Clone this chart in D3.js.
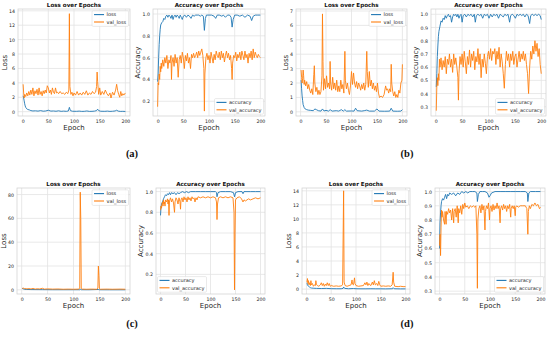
<!DOCTYPE html>
<html>
<head>
<meta charset="utf-8">
<script src="https://cdn.jsdelivr.net/npm/d3@7"></script>
<style>
  body { margin: 0; background: #fff; }
  svg { font-family: "DejaVu Sans", sans-serif; }
</style>
</head>
<body>
<div id="fig"></div>
<script>
"use strict";

// epoch ticks shared by every subplot
const epochTicks = [0, 50, 100, 150, 200];

// (a) ---------------------------------------------------------------
const aLoss = [[1,2.2],[2,1.9],[3,1.5],[4,1.1],[5,0.8],[6,0.6],[8,0.4],[10,0.3],[13,0.25],[16,0.15],[20,0.1],[25,0.12],[30,0.08],[35,0.15],[40,0.07],[45,0.1],[50,0.2],[55,0.08],[60,0.1],[65,0.06],[70,0.12],[75,0.05],[80,0.08],[85,0.05],[89,0.1],[91,0.6],[93,0.15],[97,0.06],[105,0.05],[110,0.08],[115,0.04],[120,0.05],[125,0.1],[130,0.04],[135,0.05],[140,0.08],[144,0.15],[146,0.35],[148,0.15],[152,0.06],[160,0.05],[165,0.08],[170,0.04],[175,0.06],[180,0.1],[183,0.2],[186,0.08],[190,0.04],[195,0.05],[200,0.03]];
const aValLoss = [[1,3.8],[2,2.6],[3,1.9],[4,2.4],[6,2.1],[8,2.6],[10,2.2],[12,2.8],[14,2.3],[16,3.0],[18,2.4],[20,3.3],[22,2.2],[24,2.9],[26,2.5],[28,3.1],[30,2.3],[32,3.3],[34,2.4],[36,2.8],[38,2.2],[40,2.9],[42,2.5],[44,3.0],[46,2.6],[48,3.6],[50,3.3],[52,2.6],[54,3.0],[56,2.4],[58,3.3],[60,2.7],[62,2.5],[64,3.3],[66,2.6],[68,2.7],[70,2.5],[73,2.8],[76,2.5],[79,2.6],[82,2.4],[85,2.7],[88,2.5],[90,3.0],[91,13.6],[92,3.5],[94,2.4],[96,2.7],[98,2.2],[100,2.6],[103,2.3],[106,2.8],[109,2.3],[112,2.6],[115,2.3],[118,2.7],[121,2.4],[124,2.9],[127,2.3],[130,2.6],[133,2.4],[136,2.8],[139,2.5],[142,2.7],[144,3.5],[145,5.5],[146,4.2],[148,2.4],[150,3.3],[152,2.3],[155,2.8],[158,2.4],[161,3.0],[164,2.5],[167,2.2],[170,2.6],[172,1.9],[175,2.7],[178,2.3],[181,3.0],[183,3.8],[185,2.9],[187,2.4],[189,2.0],[191,2.8],[193,2.2],[195,2.5],[197,2.3],[200,2.6]];
const aAcc = [[0,0.38],[1,0.45],[2,0.6],[3,0.72],[4,0.8],[5,0.86],[6,0.9],[8,0.92],[10,0.93],[12,0.96],[14,0.95],[16,0.98],[18,0.99],[20,0.97],[22,0.99],[24,0.98],[26,0.96],[28,0.99],[30,0.95],[32,0.98],[34,0.99],[36,0.97],[38,0.99],[40,0.98],[42,0.96],[44,0.99],[46,0.97],[48,0.95],[50,0.98],[53,0.99],[56,0.97],[59,0.99],[62,0.98],[65,0.96],[68,0.99],[71,0.98],[74,0.99],[77,0.99],[80,0.99],[83,0.98],[86,0.99],[89,0.98],[91,0.85],[93,0.96],[95,0.99],[100,0.99],[105,0.99],[110,0.98],[113,0.96],[116,0.99],[120,0.99],[125,0.98],[128,0.99],[132,0.97],[136,0.99],[140,0.99],[143,0.97],[145,0.88],[147,0.95],[150,0.99],[155,0.99],[160,0.98],[165,0.99],[170,0.97],[175,0.99],[180,0.98],[183,0.94],[186,0.98],[190,0.99],[195,0.99],[200,0.99]];
const aValAcc = [[0,0.15],[1,0.37],[2,0.35],[3,0.45],[4,0.4],[5,0.52],[6,0.47],[7,0.55],[8,0.5],[10,0.58],[12,0.52],[14,0.6],[16,0.55],[18,0.62],[20,0.5],[22,0.58],[24,0.55],[26,0.62],[27,0.4],[28,0.55],[30,0.6],[32,0.52],[34,0.63],[36,0.55],[38,0.6],[40,0.42],[42,0.58],[44,0.62],[46,0.55],[48,0.65],[50,0.6],[52,0.5],[54,0.62],[56,0.57],[58,0.64],[60,0.55],[62,0.6],[64,0.5],[66,0.63],[68,0.6],[70,0.64],[72,0.6],[74,0.62],[76,0.65],[78,0.6],[80,0.66],[82,0.62],[84,0.65],[86,0.68],[88,0.62],[90,0.5],[91,0.11],[92,0.45],[94,0.6],[96,0.64],[98,0.58],[100,0.62],[102,0.55],[104,0.65],[106,0.6],[108,0.55],[110,0.63],[112,0.58],[114,0.66],[116,0.62],[118,0.6],[120,0.65],[122,0.58],[124,0.66],[126,0.6],[128,0.64],[130,0.56],[132,0.62],[134,0.66],[136,0.6],[138,0.64],[140,0.58],[142,0.62],[144,0.5],[145,0.4],[146,0.55],[148,0.62],[150,0.6],[152,0.65],[154,0.57],[156,0.63],[158,0.6],[160,0.65],[162,0.58],[164,0.66],[166,0.62],[168,0.58],[170,0.66],[172,0.6],[174,0.63],[176,0.55],[178,0.64],[180,0.6],[182,0.66],[184,0.58],[186,0.68],[188,0.6],[190,0.65],[192,0.62],[194,0.6],[196,0.63],[198,0.61],[200,0.6]];

// (b) ---------------------------------------------------------------
const bLoss = [[1,2.2],[2,1.6],[3,1.1],[4,0.8],[5,0.5],[7,0.3],[9,0.2],[12,0.15],[15,0.12],[20,0.1],[25,0.08],[28,0.2],[31,0.15],[35,0.08],[40,0.05],[43,0.2],[46,0.06],[50,0.1],[55,0.05],[58,0.15],[62,0.05],[70,0.08],[75,0.05],[80,0.15],[84,0.05],[87,0.15],[90,0.05],[100,0.06],[105,0.05],[108,0.25],[111,0.08],[120,0.05],[125,0.08],[130,0.12],[135,0.05],[145,0.05],[150,0.2],[154,0.05],[165,0.04],[175,0.05],[178,0.25],[181,0.05],[190,0.04],[197,0.05],[200,0.15]];
const bValLoss = [[1,2.9],[2,2.4],[3,2.0],[4,2.3],[5,2.9],[6,2.5],[7,1.9],[8,2.2],[10,1.8],[12,2.1],[14,1.6],[16,1.9],[18,1.5],[20,1.3],[22,1.6],[24,1.2],[26,2.6],[27,3.2],[28,2.0],[30,1.4],[32,1.7],[34,1.2],[36,1.5],[38,1.2],[40,1.4],[42,2.5],[43,6.8],[44,3.5],[45,1.5],[47,2.3],[49,1.6],[51,2.5],[53,1.7],[55,2.0],[57,1.6],[58,3.5],[59,2.0],[61,1.5],[63,2.4],[65,1.6],[67,2.0],[69,1.5],[71,2.2],[73,1.4],[75,1.8],[77,1.4],[79,2.2],[81,1.6],[83,1.9],[85,1.3],[87,4.2],[88,2.2],[90,1.6],[92,2.0],[94,1.5],[96,1.2],[98,1.8],[100,2.8],[102,1.9],[104,2.7],[106,2.0],[108,1.7],[110,2.1],[112,1.6],[114,2.0],[116,1.8],[118,1.5],[120,1.9],[122,1.6],[124,2.0],[126,1.5],[128,1.9],[130,4.2],[131,2.8],[133,1.7],[135,2.8],[137,1.8],[139,2.2],[141,1.6],[143,2.0],[145,1.5],[147,1.8],[149,1.4],[151,2.0],[153,1.3],[155,1.0],[158,1.1],[161,1.0],[164,1.2],[167,1.8],[169,1.5],[171,1.6],[173,1.3],[175,1.6],[177,1.4],[178,3.3],[179,2.0],[181,1.4],[183,1.1],[185,1.4],[187,1.0],[189,1.2],[191,1.0],[193,1.5],[195,1.3],[197,2.0],[199,2.2],[200,3.3]];
const bAcc = [[1,0.45],[2,0.55],[3,0.68],[4,0.76],[5,0.83],[6,0.87],[8,0.91],[10,0.95],[12,0.94],[14,0.97],[16,0.96],[18,0.99],[20,0.97],[22,0.99],[24,1.0],[26,0.98],[28,0.99],[30,0.94],[32,0.98],[34,1.0],[36,0.99],[38,1.0],[40,0.98],[42,1.0],[44,0.97],[46,0.99],[48,1.0],[50,0.94],[52,0.99],[55,1.0],[58,0.98],[61,1.0],[64,0.99],[67,1.0],[70,0.98],[73,1.0],[75,0.94],[77,0.99],[80,1.0],[83,0.99],[86,1.0],[89,0.97],[92,1.0],[95,0.99],[98,1.0],[101,0.97],[104,1.0],[107,0.98],[110,1.0],[113,0.99],[116,1.0],[119,0.97],[122,1.0],[125,0.99],[128,0.98],[131,1.0],[134,0.99],[137,1.0],[140,0.94],[142,0.99],[145,1.0],[148,0.99],[151,0.97],[154,1.0],[157,0.99],[160,1.0],[163,0.99],[166,1.0],[169,0.98],[172,1.0],[175,0.99],[178,0.93],[180,0.99],[183,1.0],[186,0.99],[189,1.0],[192,0.99],[195,1.0],[198,0.99],[200,0.96]];
const bValAcc = [[1,0.27],[2,0.45],[3,0.52],[4,0.46],[5,0.55],[6,0.5],[7,0.66],[8,0.6],[10,0.67],[12,0.58],[14,0.65],[16,0.6],[18,0.68],[20,0.55],[22,0.66],[24,0.62],[26,0.7],[28,0.6],[30,0.66],[32,0.56],[34,0.7],[36,0.62],[38,0.67],[40,0.6],[42,0.52],[43,0.35],[44,0.55],[46,0.68],[48,0.62],[50,0.7],[52,0.6],[54,0.72],[56,0.64],[58,0.55],[60,0.68],[62,0.62],[64,0.73],[66,0.6],[68,0.7],[70,0.65],[72,0.72],[74,0.58],[76,0.68],[78,0.64],[80,0.74],[82,0.62],[84,0.7],[86,0.52],[88,0.66],[90,0.6],[92,0.7],[94,0.63],[96,0.55],[98,0.68],[100,0.72],[102,0.66],[104,0.74],[106,0.65],[108,0.72],[110,0.7],[112,0.74],[114,0.62],[116,0.72],[118,0.66],[120,0.75],[122,0.6],[124,0.7],[126,0.64],[128,0.55],[130,0.44],[132,0.62],[134,0.72],[136,0.65],[138,0.7],[140,0.6],[142,0.7],[144,0.65],[146,0.72],[148,0.62],[150,0.68],[152,0.7],[154,0.6],[156,0.66],[158,0.72],[160,0.64],[162,0.7],[164,0.66],[166,0.72],[168,0.65],[170,0.7],[172,0.62],[174,0.55],[176,0.4],[178,0.6],[180,0.72],[182,0.66],[184,0.76],[186,0.7],[188,0.8],[190,0.72],[192,0.78],[194,0.68],[196,0.74],[198,0.62],[200,0.55]];

// (c) ---------------------------------------------------------------
const cLoss = [[1,1.2],[3,0.8],[6,0.4],[10,0.3],[20,0.2],[40,0.15],[60,0.1],[80,0.1],[100,0.1],[112,0.1],[113,0.5],[115,0.1],[130,0.08],[148,0.3],[150,0.08],[170,0.05],[200,0.05]];
const cValLoss = [[1,1.5],[2,1.2],[4,1.4],[6,0.9],[8,1.1],[10,0.8],[14,1.0],[18,0.7],[22,1.2],[26,0.6],[30,0.9],[35,0.7],[40,1.3],[44,0.6],[50,0.8],[60,0.6],[70,0.7],[80,0.5],[90,0.6],[100,0.5],[110,0.6],[112,1.5],[113,82],[114,60],[115,1.2],[117,0.6],[125,0.5],[135,0.6],[145,0.5],[147,1.5],[148,20],[149,12],[150,1],[152,0.5],[165,0.6],[175,0.5],[190,0.6],[200,0.5]];
const cAcc = [[0,0.77],[1,0.85],[2,0.88],[4,0.9],[6,0.93],[8,0.95],[10,0.97],[12,0.96],[14,0.98],[16,0.97],[18,0.99],[20,0.97],[22,0.99],[25,0.98],[28,0.99],[31,0.97],[34,0.99],[37,0.98],[40,0.99],[44,1.0],[48,0.99],[52,1.0],[56,0.99],[60,1.0],[70,1.0],[80,1.0],[90,1.0],[100,1.0],[110,1.0],[112,0.99],[113,0.95],[115,0.99],[120,1.0],[130,1.0],[140,1.0],[146,0.99],[148,0.95],[150,0.99],[155,1.0],[163,1.0],[165,0.98],[167,1.0],[180,1.0],[190,1.0],[200,1.0]];
const cValAcc = [[0,0.82],[1,0.86],[2,0.84],[3,0.88],[4,0.9],[5,0.86],[6,0.92],[7,0.88],[8,0.9],[9,0.86],[10,0.92],[12,0.9],[14,0.93],[15,0.88],[16,0.92],[17,0.77],[18,0.91],[20,0.94],[22,0.9],[24,0.93],[26,0.89],[28,0.8],[29,0.9],[31,0.94],[33,0.92],[35,0.88],[37,0.94],[39,0.9],[40,0.83],[41,0.92],[43,0.94],[45,0.9],[47,0.95],[49,0.92],[51,0.94],[53,0.9],[55,0.95],[57,0.92],[59,0.94],[61,0.91],[63,0.95],[65,0.93],[67,0.94],[69,0.9],[71,0.94],[73,0.92],[75,0.95],[80,0.94],[85,0.95],[90,0.94],[95,0.95],[100,0.94],[105,0.95],[110,0.94],[112,0.9],[113,0.73],[114,0.88],[116,0.94],[120,0.95],[125,0.94],[130,0.95],[135,0.94],[140,0.95],[145,0.94],[147,0.8],[148,0.05],[149,0.6],[150,0.92],[153,0.94],[158,0.95],[162,0.93],[165,0.9],[167,0.92],[170,0.91],[173,0.92],[176,0.93],[180,0.92],[185,0.93],[190,0.94],[195,0.93],[200,0.94]];

// (d) ---------------------------------------------------------------
const dLoss = [[1,0.9],[2,0.6],[4,0.4],[6,0.3],[8,0.2],[10,0.15],[15,0.12],[20,0.1],[30,0.08],[40,0.1],[50,0.06],[60,0.05],[70,0.05],[74,0.1],[75,0.3],[77,0.1],[85,0.05],[95,0.08],[100,0.05],[110,0.04],[120,0.04],[130,0.05],[140,0.04],[150,0.04],[160,0.03],[174,0.05],[175,0.2],[177,0.05],[190,0.03],[200,0.03]];
const dValLoss = [[1,1.0],[2,1.5],[3,0.8],[4,1.2],[5,0.6],[6,0.9],[8,0.5],[9,1.2],[10,0.6],[12,0.8],[14,0.4],[16,0.6],[18,0.5],[19,1.2],[20,0.7],[22,0.5],[25,0.4],[28,0.6],[30,0.9],[32,0.5],[34,0.8],[36,0.4],[38,0.7],[40,0.5],[42,0.9],[44,0.5],[46,0.8],[48,0.4],[50,0.5],[55,0.4],[60,0.45],[65,0.4],[70,0.45],[73,0.6],[75,14],[76,1.0],[78,0.5],[82,0.4],[86,0.5],[90,0.6],[92,1.3],[93,0.7],[95,0.6],[97,1.6],[98,0.8],[100,0.5],[105,0.4],[110,0.45],[115,0.5],[118,0.9],[120,0.6],[122,1.0],[124,0.5],[126,0.8],[128,0.6],[130,0.5],[133,1.0],[135,0.6],[137,1.2],[139,0.6],[142,0.8],[144,0.5],[146,1.1],[148,0.6],[150,0.4],[155,0.45],[160,0.4],[165,0.45],[170,0.4],[173,0.6],[175,2.4],[176,1.0],[178,0.4],[185,0.35],[190,0.4],[195,0.35],[200,0.35]];
const dAcc = [[0,0.6],[1,0.78],[2,0.85],[3,0.9],[4,0.93],[6,0.95],[8,0.94],[10,0.96],[12,0.98],[14,0.95],[16,0.98],[18,0.97],[20,0.99],[24,0.98],[28,0.99],[32,0.97],[36,0.99],[40,0.98],[44,1.0],[48,0.99],[52,1.0],[56,0.99],[60,1.0],[65,1.0],[70,1.0],[74,0.99],[75,0.93],[77,0.98],[80,1.0],[85,1.0],[90,1.0],[95,0.99],[98,0.96],[100,0.97],[103,0.99],[110,1.0],[120,1.0],[130,1.0],[140,1.0],[150,1.0],[160,1.0],[170,1.0],[174,0.99],[175,0.93],[177,0.99],[180,1.0],[190,1.0],[200,1.0]];
const dValAcc = [[0,0.62],[1,0.7],[2,0.55],[3,0.75],[4,0.87],[5,0.82],[6,0.86],[8,0.8],[10,0.77],[11,0.86],[13,0.77],[14,0.86],[16,0.84],[18,0.88],[20,0.85],[22,0.87],[24,0.8],[26,0.88],[28,0.78],[29,0.86],[31,0.88],[33,0.82],[35,0.9],[37,0.78],[38,0.88],[40,0.85],[42,0.9],[44,0.84],[46,0.91],[48,0.88],[50,0.92],[52,0.89],[55,0.9],[58,0.88],[61,0.9],[64,0.89],[67,0.9],[70,0.89],[72,0.9],[74,0.7],[75,0.32],[76,0.8],[78,0.88],[80,0.9],[82,0.85],[84,0.91],[86,0.87],[88,0.9],[90,0.73],[91,0.86],[93,0.9],[95,0.88],[97,0.92],[99,0.8],[100,0.88],[102,0.9],[104,0.86],[106,0.91],[108,0.87],[110,0.9],[112,0.88],[114,0.92],[116,0.88],[118,0.9],[120,0.78],[121,0.88],[123,0.9],[125,0.87],[127,0.91],[129,0.88],[131,0.9],[133,0.86],[135,0.9],[137,0.88],[139,0.91],[141,0.82],[142,0.88],[144,0.9],[146,0.88],[148,0.9],[150,0.83],[151,0.89],[153,0.9],[156,0.89],[160,0.9],[165,0.9],[170,0.9],[173,0.88],[175,0.7],[176,0.86],[178,0.9],[180,0.88],[183,0.91],[186,0.9],[189,0.92],[192,0.9],[195,0.91],[198,0.88],[200,0.89]];

// y ticks per subplot
const ticksLoss14 = [0, 2, 4, 6, 8, 10, 12, 14];
const ticksLoss7 = [0, 1, 2, 3, 4, 5, 6, 7];
const ticksLoss80 = [0, 20, 40, 60, 80];
const ticksAcc2 = [0.2, 0.4, 0.6, 0.8, 1.0];
const ticksAcc1 = [0.3, 0.4, 0.5, 0.6, 0.7, 0.8, 0.9, 1.0];

const blue = "#1f77b4", orange = "#ff7f0e";

// layout: box = [left, top, right, bottom] in px
const panels = [
  { kind: "loss", train: aLoss, val: aValLoss, box: [18, 9, 130, 116], yDom: [-0.6, 14.25], yTicks: ticksLoss14, legend: "ur" },
  { kind: "acc",  train: aAcc,  val: aValAcc,  box: [153, 9, 265, 116], yDom: [0.065, 1.046], yTicks: ticksAcc2, legend: "lr" },
  { kind: "loss", train: bLoss, val: bValLoss, box: [296, 9, 407, 116], yDom: [-0.29, 7.14], yTicks: ticksLoss7, legend: "ur" },
  { kind: "acc",  train: bAcc,  val: bValAcc,  box: [431, 9, 546, 116], yDom: [0.23, 1.04], yTicks: ticksAcc1, legend: "lr" },
  { kind: "loss", train: cLoss, val: cValLoss, box: [17, 188, 130, 294], yDom: [-3.5, 85.5], yTicks: ticksLoss80, legend: "ur" },
  { kind: "acc",  train: cAcc,  val: cValAcc,  box: [156, 188, 265, 294], yDom: [0.01, 1.035], yTicks: ticksAcc2, legend: "ll" },
  { kind: "loss", train: dLoss, val: dValLoss, box: [302, 188, 410, 294], yDom: [-0.7, 14.4], yTicks: ticksLoss14, legend: "ur" },
  { kind: "acc",  train: dAcc,  val: dValAcc,  box: [435, 188, 545, 294], yDom: [0.28, 1.025], yTicks: ticksAcc1, legend: "lr" }
];

const subLabels = [
  { text: "(a)", x: 132, y: 157 },
  { text: "(b)", x: 407, y: 157 },
  { text: "(c)", x: 132, y: 327 },
  { text: "(d)", x: 407, y: 327 }
];

const svg = d3.select("#fig").append("svg")
  .attr("width", 550)
  .attr("height", 348);

const ink = "#262626";

panels.forEach(drawPanel);

svg.selectAll(".sub")
  .data(subLabels)
  .join("text")
    .attr("x", d => d.x)
    .attr("y", d => d.y)
    .attr("text-anchor", "middle")
    .style("font-family", "'Liberation Serif', serif")
    .style("font-weight", "bold")
    .style("font-size", "10.5px")
    .attr("fill", "#111")
    .text(d => d.text);

function drawPanel(p) {
  const [x0, y0, x1, y1] = p.box;
  const x = d3.scaleLinear().domain([-9, 209]).range([x0, x1]);
  const y = d3.scaleLinear().domain(p.yDom).range([y1, y0]);
  const g = svg.append("g");

  // grid
  g.append("g").selectAll("line")
    .data(epochTicks)
    .join("line")
      .attr("x1", d => x(d)).attr("x2", d => x(d))
      .attr("y1", y0).attr("y2", y1)
      .attr("stroke", "#e3e3e3").attr("stroke-width", 0.8);
  g.append("g").selectAll("line")
    .data(p.yTicks)
    .join("line")
      .attr("x1", x0).attr("x2", x1)
      .attr("y1", d => y(d)).attr("y2", d => y(d))
      .attr("stroke", "#e3e3e3").attr("stroke-width", 0.8);

  // axes (labels only, seaborn style has no tick marks)
  const fmt = p.kind === "acc" ? d3.format(".1f") : d3.format("d");
  const xAxis = g.append("g")
    .attr("transform", `translate(0,${y1})`)
    .call(d3.axisBottom(x).tickValues(epochTicks).tickSize(0).tickPadding(3.2));
  const yAxis = g.append("g")
    .attr("transform", `translate(${x0},0)`)
    .call(d3.axisLeft(y).tickValues(p.yTicks).tickFormat(fmt).tickSize(0).tickPadding(3));
  [xAxis, yAxis].forEach(a => {
    a.select(".domain").remove();
    a.selectAll("text")
      .style("font-size", "4.7px")
      .style("font-family", "'DejaVu Sans', sans-serif")
      .attr("fill", ink);
  });

  // lines
  const clipId = "clip" + x0 + "_" + y0;
  g.append("clipPath").attr("id", clipId)
    .append("rect").attr("x", x0).attr("y", y0).attr("width", x1 - x0).attr("height", y1 - y0);
  const line = d3.line().x(d => x(d[0])).y(d => y(d[1]));
  const lines = g.append("g").attr("clip-path", `url(#${clipId})`);
  lines.append("path").datum(p.train)
    .attr("d", line).attr("fill", "none")
    .attr("stroke", blue).attr("stroke-width", 0.9).attr("stroke-linejoin", "round");
  lines.append("path").datum(p.val)
    .attr("d", line).attr("fill", "none")
    .attr("stroke", orange).attr("stroke-width", 0.9).attr("stroke-linejoin", "round");

  // frame
  g.append("rect")
    .attr("x", x0).attr("y", y0)
    .attr("width", x1 - x0).attr("height", y1 - y0)
    .attr("fill", "none").attr("stroke", "#cfcfcf").attr("stroke-width", 0.7);

  // title & axis labels
  g.append("text")
    .attr("x", (x0 + x1) / 2).attr("y", y0 - 2.5)
    .attr("text-anchor", "middle")
    .style("font-size", "5.6px").style("font-weight", "bold")
    .attr("fill", "#111")
    .text(p.kind === "acc" ? "Accuracy over Epochs" : "Loss over Epochs");
  g.append("text")
    .attr("x", (x0 + x1) / 2).attr("y", y1 + 14)
    .attr("text-anchor", "middle")
    .style("font-size", "7px")
    .attr("fill", ink)
    .text("Epoch");
  const yb = yAxis.node().getBBox();
  g.append("text")
    .attr("transform", `translate(${x0 + yb.x - 2.5},${(y0 + y1) / 2}) rotate(-90)`)
    .attr("text-anchor", "middle")
    .style("font-size", "7px")
    .attr("fill", ink)
    .text(p.kind === "acc" ? "Accuracy" : "Loss");

  // legend
  const names = p.kind === "acc" ? ["accuracy", "val_accuracy"] : ["loss", "val_loss"];
  const leg = g.append("g");
  const box = leg.append("rect")
    .attr("fill", "#fff").attr("fill-opacity", 0.85)
    .attr("stroke", "#d5d5d5").attr("stroke-width", 0.5)
    .attr("rx", 1.2);
  const rows = leg.selectAll(".row")
    .data(names)
    .join("g")
      .attr("transform", (d, i) => `translate(0,${3.8 + i * 7.4})`);
  rows.append("line")
    .attr("x1", 2).attr("x2", 12)
    .attr("stroke", (d, i) => i ? orange : blue)
    .attr("stroke-width", 1.1);
  rows.append("text")
    .attr("x", 14.5).attr("dy", "0.35em")
    .style("font-size", "5px")
    .attr("fill", ink)
    .text(d => d);
  const lb = leg.node().getBBox();
  const w = lb.x + lb.width + 2, h = 15.6;
  box.attr("width", w).attr("height", h);
  let lx, ly;
  if (p.legend === "ur") { lx = x1 - 1.5 - w; ly = y0 + 1.8; }
  else if (p.legend === "lr") { lx = x1 - 1.5 - w; ly = y1 - 1.8 - h; }
  else { lx = x0 + 1.5; ly = y1 - 1.8 - h; }
  leg.attr("transform", `translate(${lx},${ly})`);
}
</script>
</body>
</html>
